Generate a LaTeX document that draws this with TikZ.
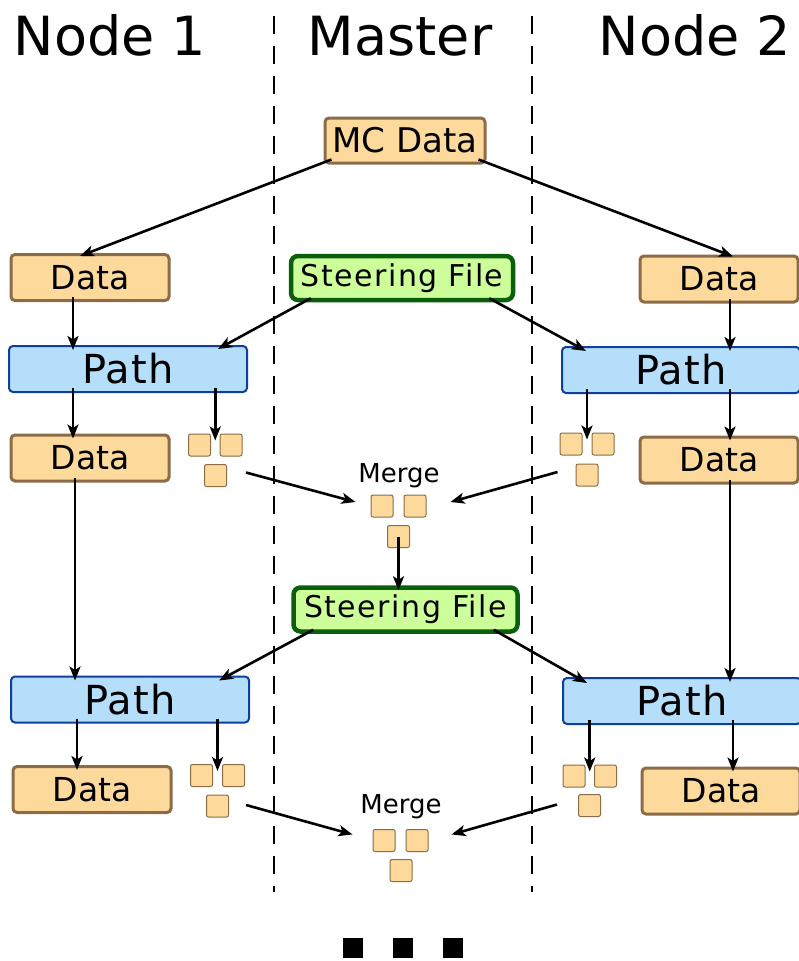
\documentclass[tikz,border=0pt]{standalone}
\usepackage{fontspec}
\setmainfont{DejaVu Sans}
\newfontfamily\steerfont[LetterSpace=5]{DejaVu Sans}
\newfontfamily\pathfont[LetterSpace=3]{DejaVu Sans}
\usetikzlibrary{arrows.meta,calc}

\definecolor{datafill}{HTML}{FDD99B}
\definecolor{dataedge}{HTML}{8B6C47}
\definecolor{pathfill}{HTML}{B4DEFA}
\definecolor{pathedge}{HTML}{0F3F9E}
\definecolor{steerfill}{HTML}{CCFF99}
\definecolor{steeredge}{HTML}{0B5E0B}

\tikzset{
  boxbase/.style={inner sep=0pt, align=center},
  title/.style={inner sep=0pt, anchor=base, font=\fontsize{54}{60}\selectfont},
  mergelabel/.style={inner sep=0pt, anchor=base, font=\fontsize{26}{30}\selectfont},
  mcbox/.style={boxbase, draw=dataedge, fill=datafill, line width=3pt, rounded corners=4pt,
    minimum width=160pt, minimum height=45pt, font=\fontsize{34}{38}\selectfont},
  databox/.style={boxbase, draw=dataedge, fill=datafill, line width=3pt, rounded corners=4pt,
    minimum width=158pt, minimum height=46pt, font=\fontsize{33}{38}\selectfont},
  pathbox/.style={boxbase, draw=pathedge, fill=pathfill, line width=2pt, rounded corners=4pt,
    minimum width=238pt, minimum height=46pt, font=\pathfont\fontsize{40}{44}\selectfont},
  steerbox/.style={boxbase, draw=steeredge, fill=steerfill, line width=4.5pt, rounded corners=7pt,
    minimum width=222pt, minimum height=44pt, font=\steerfont\fontsize{30}{34}\selectfont},
  chunk/.style={draw=dataedge, fill=datafill, line width=1pt, rounded corners=2pt,
    minimum size=22pt, inner sep=0pt},
  dotmark/.style={fill=black, minimum size=20pt, inner sep=0pt},
  arr/.style={-{Stealth[length=14pt,width=11pt,inset=3.5pt]}, line width=2.6pt},
  into/.style={shorten <=-5pt, shorten >=-5pt},
  intogap/.style={shorten <=-5pt, shorten >=-7pt},
  lane/.style={dash pattern=on 18pt off 12pt, line width=2pt}
}

\begin{document}
\begin{tikzpicture}[x=1pt,y=-1pt]
\useasboundingbox (0,0) rectangle (799,961);
\clip (0,0) rectangle (799,961);

% lane separators
\draw[lane] (274,16) -- (274,892);
\draw[lane] (532,16) -- (532,892);

% column headings
\node[title] (h1) at (110,55) {Node 1};
\node[title] (h2) at (400,55) {Master};
\node[title] (h3) at (695,55) {Node 2};

% first pass
\node[mcbox] (mc) at (405,140.5) {MC Data};
\node[databox] (dL1) at (90,277.5) {Data};
\node[databox] (dR1) at (719,279) {Data};
\node[steerbox] (sf1) at (402,278) {Steering File};
\node[pathbox] (pL1) at (128,369) {Path};
\node[pathbox] (pR1) at (681,370) {Path};
\node[databox] (dL2) at (90,458) {Data};
\node[databox] (dR2) at (719,460) {Data};

\node[chunk] (sqL1a) at (199.5,445) {};
\node[chunk] (sqL1b) at (231,445) {};
\node[chunk] (sqL1c) at (215.5,475.5) {};
\node[chunk] (sqR1a) at (571,444) {};
\node[chunk] (sqR1b) at (603,444) {};
\node[chunk] (sqR1c) at (587,475) {};

\node[mergelabel] (m1) at (399,482) {Merge};
\node[chunk] (mg1a) at (382,506) {};
\node[chunk] (mg1b) at (415,506) {};
\node[chunk] (mg1c) at (398.5,536.5) {};

% second pass
\node[steerbox, minimum width=224pt] (sf2) at (405.5,609.5) {Steering File};
\node[pathbox] (pL2) at (130,699.5) {Path};
\node[pathbox] (pR2) at (682,701) {Path};
\node[databox] (dL3) at (92,789.5) {Data};
\node[databox] (dR3) at (721,791) {Data};

\node[chunk] (sqL2a) at (201.5,775.5) {};
\node[chunk] (sqL2b) at (233.5,775.5) {};
\node[chunk] (sqL2c) at (217.5,806) {};
\node[chunk] (sqR2a) at (574,776) {};
\node[chunk] (sqR2b) at (605.5,776) {};
\node[chunk] (sqR2c) at (589.5,805.5) {};

\node[mergelabel] (m2) at (401,813) {Merge};
\node[chunk] (mg2a) at (384,840.5) {};
\node[chunk] (mg2b) at (417,840.5) {};
\node[chunk] (mg2c) at (401,870.5) {};

% continuation marks
\node[dotmark] (e1) at (353,948) {};
\node[dotmark] (e2) at (403,948) {};
\node[dotmark] (e3) at (453,948) {};

% vertical columns of the straight arrows
\coordinate (xa) at (73,0);
\coordinate (xb) at (75,0);
\coordinate (xc) at (77,0);
\coordinate (xr) at (730,0);
\coordinate (xs) at (733,0);
\coordinate (gL1) at ($(sqL1a.north east)!0.5!(sqL1b.north west)$);
\coordinate (gR1) at ($(sqR1a.north east)!0.5!(sqR1b.north west)$);
\coordinate (gL2) at ($(sqL2a.north east)!0.5!(sqL2b.north west)$);
\coordinate (gR2) at ($(sqR2a.north east)!0.5!(sqR2b.north west)$);

% distribution of the input data
\draw[arr] ($(mc.south west)+(8,-5)$) -- ($(dL1.north)+(-10,3)$);
\draw[arr] ($(mc.south east)+(-8,-5)$) -- ($(dR1.north)+(14,2)$);

% steering file to the paths, first pass
\draw[arr] ($(sf1.south west)+(22,-4)$) -- ($(pL1.north east)+(-30,4)$);
\draw[arr] ($(sf1.south east)+(-26,-4)$) -- ($(pR1.north west)+(25,5)$);

\draw[arr,into] (xa |- dL1.south) -- (xa |- pL1.north);
\draw[arr,into] (xa |- pL1.south) -- (xa |- dL2.north);
\draw[arr,into] (xr |- dR1.south) -- (xr |- pR1.north);
\draw[arr,into] (xr |- pR1.south) -- (xr |- dR2.north);
\draw[arr,intogap] (gL1 |- pL1.south) -- (gL1);
\draw[arr,intogap] (gR1 |- pR1.south) -- (gR1);

% first merge
\draw[arr] ($(sqL1c.east)+(19,-3)$) -- ($(mg1a.west)+(-15,-4)$);
\draw[arr] ($(sqR1c.west)+(-18,-3)$) -- ($(mg1b.east)+(24,-4)$);
\draw[arr] (mg1c.center) -- ($(mg1c.center |- sf2.north)+(0,5)$);

% second pass
\draw[arr] ($(sf2.south west)+(22,-4)$) -- ($(pL2.north east)+(-31,5)$);
\draw[arr] ($(sf2.south east)+(-26,-4)$) -- ($(pR2.north west)+(25,6)$);

\draw[arr,into] (xb |- dL2.south) -- (xb |- pL2.north);
\draw[arr,into] (xc |- pL2.south) -- (xc |- dL3.north);
\draw[arr,into] (xr |- dR2.south) -- (xr |- pR2.north);
\draw[arr,into] (xs |- pR2.south) -- (xs |- dR3.north);
\draw[arr,intogap] (gL2 |- pL2.south) -- (gL2);
\draw[arr,intogap] (gR2 |- pR2.south) -- (gR2);

% second merge
\draw[arr] ($(sqL2c.east)+(17,-1)$) -- ($(mg2a.west)+(-20,-6)$);
\draw[arr] ($(sqR2c.west)+(-21,-1)$) -- ($(mg2b.east)+(23,-6)$);
\end{tikzpicture}
\end{document}
